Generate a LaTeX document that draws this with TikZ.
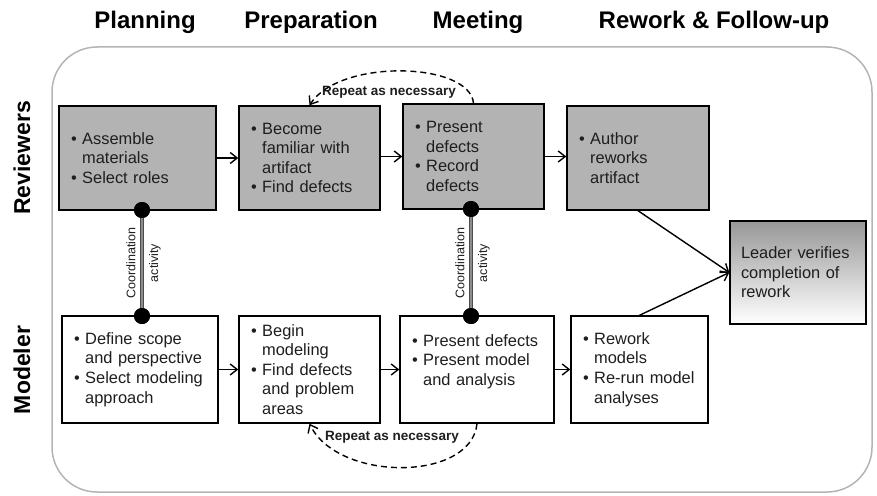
\documentclass[tikz,border=0pt]{standalone}
\usepackage{fontspec}
\setmainfont{Liberation Sans}
\usetikzlibrary{arrows.meta}
\definecolor{boxgray}{HTML}{B3B3B3}
\definecolor{txtcol}{HTML}{1E1E1E}
\definecolor{framegray}{HTML}{B4B4B4}
\definecolor{leadtop}{HTML}{979797}
\newcommand{\bl}{\textbullet\ }
\newcommand{\ind}{\hphantom{\textbullet\ }}
\begin{document}
\begin{tikzpicture}[x=1pt,y=-1pt,
  boxfont/.style={font=\fontsize{16.4}{19.6}\selectfont},
  basebox/.style={draw=black, line width=1.4pt, inner xsep=12pt, inner ysep=0pt,
    align=left, boxfont, text=txtcol},
  rbox/.style={basebox, fill=boxgray},
  mbox/.style={basebox, fill=white},
  header/.style={font=\fontsize{24}{27}\bfseries\selectfont, anchor=base, text=black},
  side/.style={font=\fontsize{23}{26}\bfseries\selectfont, rotate=90, text=black},
  arr/.style={line width=1.4pt, -{Straight Barb[length=7pt,width=11pt]}},
  dasharr/.style={line width=1.4pt, dash pattern=on 6pt off 4pt, -{Straight Barb[length=7pt,width=11pt]}},
  dot/.style={circle, fill=black, inner sep=0pt, minimum size=16pt},
  coordtext/.style={font=\fontsize{12.5}{14}\selectfont, rotate=90, text=txtcol},
  reptext/.style={font=\fontsize{13.5}{15}\bfseries\selectfont, text=txtcol}
]
\useasboundingbox (0,0) rectangle (877,495);
% outer frame
\draw[framegray, line width=1.5pt, rounded corners=45pt] (52,47) rectangle (872,492);

% headers
\node[header] (hplan) at (145,29) {Planning};
\node[header] (hprep) at (311,29) {Preparation};
\node[header] (hmeet) at (478,29) {Meeting};
\node[header] (hrew) at (714,29) {Rework \& Follow-up};

% side labels
\node[side] (srev) at (22,158) {Reviewers};
\node[side] (smod) at (22,370) {Modeler};

% reviewer boxes
\node[rbox, minimum width=157pt, minimum height=104pt, text width=133pt] (R1) at (137.5,158)
  {\bl Assemble\\ \ind materials\\ \bl Select roles};
\node[rbox, minimum width=141pt, minimum height=104pt, text width=117pt] (R2) at (309.5,158)
  {\bl Become\\ \ind familiar with\\ \ind artifact\\ \bl Find defects};
\node[rbox, minimum width=141pt, minimum height=105pt, text width=117pt] (R3) at (473.5,156.5)
  {\bl Present\\ \ind defects\\ \bl Record\\ \ind defects};
\node[rbox, minimum width=142pt, minimum height=104pt, text width=118pt] (R4) at (638,158)
  {\bl Author\\ \ind reworks\\ \ind artifact};

% modeler boxes
\node[mbox, minimum width=156pt, minimum height=107pt, text width=132pt] (M1) at (140,369.5)
  {\bl Define scope\\ \ind and perspective\\ \bl Select modeling\\ \ind approach};
\node[mbox, minimum width=141pt, minimum height=107pt, text width=117pt] (M2) at (309.5,369.5)
  {\bl Begin\\ \ind modeling\\ \bl Find defects\\ \ind and problem\\ \ind areas};
\node[mbox, minimum width=154pt, minimum height=107pt, text width=130pt] (M3) at (477,369.5)
  {\bl Present defects\\ \bl Present model\\ \ind and analysis\\ \mbox{}};
\node[mbox, minimum width=137pt, minimum height=107pt, text width=113pt] (M4) at (639.5,369.5)
  {\bl Rework\\ \ind models\\ \bl Re-run model\\ \ind analyses};

% leader box
\node[basebox, inner xsep=11pt, top color=leadtop, bottom color=white,
  minimum width=136pt, minimum height=103pt, text width=114pt] (L) at (798,272.5)
  {Leader verifies\\ completion of\\ rework};

% horizontal arrows
\draw[arr] (R1.east) -- (R2.west);
\draw[arr] (R2.east |- R3.west) -- (R3.west);
\draw[arr] (R3.east) -- (R3.east -| R4.west);
\draw[arr] (M1.east) -- (M2.west);
\draw[arr] (M2.east) -- (M3.west);
\draw[arr] (M3.east) -- (M4.west);

% to leader
\draw[arr] (R4.south) -- (L.west);
\draw[arr] (M4.north) -- (L.west);

% coordination links
\node[dot] (d1a) at (142,210) {};
\node[dot] (d1b) at (142,316) {};
\node[dot] (d2a) at (471,209) {};
\node[dot] (d2b) at (471,316) {};
\draw[line width=4.2pt, black!70] (d1a.center) -- (d1b.center);
\draw[line width=2.4pt, gray!90] (d1a.center) -- (d1b.center);
\draw[line width=4.2pt, black!70] (d2a.center) -- (d2b.center);
\draw[line width=2.4pt, gray!90] (d2a.center) -- (d2b.center);
\node[dot] at (d1a) {};
\node[dot] at (d1b) {};
\node[dot] at (d2a) {};
\node[dot] at (d2b) {};
\node[coordtext] (ct1) at (131,263) {Coordination};
\node[coordtext] (ca1) at (155,263) {activity};
\node[coordtext] (ct2) at (460,263) {Coordination};
\node[coordtext] (ca2) at (484,263) {activity};

% repeat loops
\draw[dasharr] (R3.north) .. controls (470,62) and (340,58) .. (R2.north);
\node[reptext] (rep1) at (389,92) {Repeat as necessary};
\draw[dasharr] (M3.south) .. controls (471,482) and (338,482) .. (M2.south);
\node[reptext] (rep2) at (392,437) {Repeat as necessary};
\end{tikzpicture}
\end{document}
